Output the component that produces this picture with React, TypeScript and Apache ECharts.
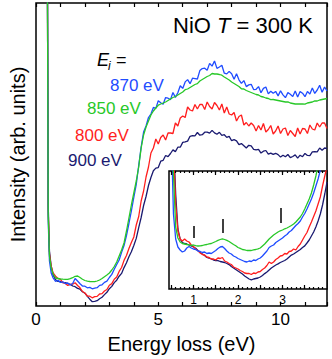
import React, { useEffect, useRef } from "react";
import * as echarts from "echarts";

const FONT = '"Liberation Sans", Arial, Helvetica, sans-serif';

const COLORS = {
  e870: "#1f4cff",
  e850: "#28c828",
  e800: "#ff1e1e",
  e900: "#1a1a70",
};

// ---------- main panel: energy loss (eV) ----------
const mainEnergy = [
  0.40, 0.47, 0.50, 0.55, 0.62, 0.70,
  0.8, 0.9, 1.0, 1.1, 1.2, 1.3, 1.4, 1.5, 1.6, 1.7,
  1.8, 1.9, 2.0, 2.1, 2.2, 2.3, 2.4, 2.5, 2.6, 2.7,
  2.8, 2.9, 3.0, 3.1, 3.2, 3.3, 3.4, 3.5, 3.6, 3.7,
  3.8, 3.9, 4.0, 4.1, 4.2, 4.3, 4.4, 4.5, 4.6, 4.7,
  4.8, 4.9, 5.0, 5.1, 5.2, 5.3, 5.4, 5.5, 5.6, 5.7,
  5.8, 5.9, 6.0, 6.1, 6.2, 6.3, 6.4, 6.5, 6.6, 6.7,
  6.8, 6.9, 7.0, 7.1, 7.2, 7.3, 7.4, 7.5, 7.6, 7.7,
  7.8, 7.9, 8.0, 8.1, 8.2, 8.3, 8.4, 8.5, 8.6, 8.7,
  8.8, 8.9, 9.0, 9.1, 9.2, 9.3, 9.4, 9.5, 9.6, 9.7,
  9.8, 9.9, 10.0, 10.1, 10.2, 10.3, 10.4, 10.5, 10.6, 10.7,
  10.8, 10.9, 11.0, 11.1, 11.2, 11.3, 11.4, 11.5, 11.6, 11.7,
  11.8, 11.9,
];

const main850 = [
  700, 300, 90, 50, 38, 32,
  28, 27.5, 27, 26.8, 26.7, 26.7, 27.3, 28.3, 29.7, 30,
  28.5, 26.8, 25.5, 24.8, 24.5, 24.3, 24.3, 25, 26, 27.5,
  29.3, 31, 33, 36, 39.5, 44, 50, 56, 63, 75,
  88, 101, 113, 125, 139, 158, 171, 179, 185, 191,
  195, 198, 200.8, 202, 203, 204, 205.5, 207, 208.5, 209.5,
  211, 212.5, 214, 216.3, 217, 218.5, 220, 221.5, 222.4, 225,
  226.5, 228, 229.5, 230.5, 232.5, 232, 232, 231.5, 230.8, 229,
  227.5, 226, 224, 222.5, 221, 219.5, 217.2, 217, 215.5, 214.5,
  213.5, 212.5, 211.5, 211, 209.5, 209, 208, 207.5, 206.3, 206.5,
  206, 205.5, 205, 204.5, 204, 204.2, 203, 202.5, 202, 202,
  202, 202, 201.8, 203, 203.5, 204, 205.2, 205, 206, 206.5,
  207, 207.5,
];

const main870 = [
  700, 300, 85, 45, 33, 28,
  24.5, 25.8, 23.6, 24.2, 22.4, 23, 21, 22.5, 27.5, 25,
  22.3, 20, 19.8, 18.2, 18.6, 17.2, 17.9, 18.3, 20.6, 21.2,
  23.6, 24.8, 28.5, 31.6, 36.8, 41.5, 46, 53.6, 60.5, 70.5,
  82.5, 95, 108.5, 121.5, 140.5, 159, 174, 180, 188.5, 192,
  198.6, 197.6, 205.2, 203.2, 201.8, 208.4, 207.8, 206.4, 213.5, 208.6,
  213.2, 220.2, 217.6, 224.1, 226.4, 222.3, 227.8, 227.4, 227, 235.4,
  237.4, 237.8, 235.8, 242.6, 239.9, 245, 237.6, 239, 240.7, 232.8,
  232.1, 234.6, 232.3, 226.8, 232.2, 226.2, 222.6, 225.4, 219.4, 221.1,
  221.7, 216.4, 216.7, 219.4, 213.3, 217.6, 219, 212.1, 214.8, 212.7,
  214.6, 210.1, 215.2, 211.2, 208.3, 213.4, 211.8, 209.4, 215, 209.1,
  214.4, 212.8, 209.3, 214.6, 211.9, 218, 212.6, 216, 220.7, 213.8,
  219, 215,
];

const main800 = [
  700, 300, 95, 52, 40, 33,
  29.8, 27.5, 26.6, 23.4, 22.6, 20.5, 21.6, 21.8, 23.2, 20.5,
  18.2, 14.5, 13, 10, 9.8, 8.2, 9.3, 9.6, 12, 12.4,
  15, 16.5, 20.8, 22.4, 26.8, 29, 34.6, 38.5, 45.6, 50.5,
  57.5, 63.5, 69, 81, 89.5, 105, 115, 129, 139, 153,
  158, 167, 162, 168.5, 171, 166, 173, 173, 172.5, 183,
  180, 188, 190, 188.5, 199, 196, 195, 201.5, 197, 201.5,
  201.5, 196.5, 204, 199.5, 197, 203.5, 200.5, 196, 202, 193,
  199, 192, 191, 193.5, 185, 189.5, 191, 181, 183.5, 180,
  183, 180.5, 175, 180.5, 176, 182.5, 174, 176.5, 180.5, 172,
  175, 180, 172.5, 177, 178, 170.5, 175.5, 172.5, 169.5, 178,
  172, 177.5, 177, 172.5, 181, 177, 176, 183, 179, 183,
  183, 177.5,
];

const main900 = [
  700, 320, 100, 55, 40, 31,
  26.3, 24.6, 24.5, 23.3, 23.4, 22.3, 21.7, 20, 19.3, 17.6,
  16.8, 14.2, 12.8, 9.7, 6.8, 4.3, 4.6, 5.3, 7.3, 8.8,
  11.4, 13.7, 17.3, 19.6, 23.4, 25.8, 29.8, 32.6, 38.4, 43.2,
  49.3, 54.2, 60.5, 67.6, 78.4, 88.5, 100.5, 109.5, 120.5, 128.5,
  135.2, 137.9, 138.4, 144.8, 145.7, 150.5, 149.3, 152.5, 156.1, 154.4,
  158.8, 158.8, 163.6, 164.1, 164.9, 169.7, 170.4, 170.2, 173.5, 170.8,
  171.3, 173.8, 173.9, 172.9, 175.6, 173.1, 171.8, 173.7, 170.7, 171.3,
  168.6, 169.6, 165.3, 166.3, 165.2, 161.4, 162.4, 160.2, 158, 160.7,
  160.1, 156.7, 156.1, 156.7, 152.9, 154.8, 155.5, 151.8, 152.9, 151.6,
  152.7, 151.4, 148.9, 150.8, 149.2, 151.5, 148.3, 149.5, 151.1, 147.9,
  150.8, 149.3, 152.6, 150.6, 150.4, 154.2, 154.4, 154.2, 158, 155.8,
  158, 157.5,
];

const mainTickLabels = [0, 5, 10];

// ---------- inset panel ----------
const insetEnergy = [
  0.50, 0.55, 0.60, 0.65, 0.70, 0.75, 0.80, 0.85, 0.90, 0.95,
  1.00, 1.05, 1.10, 1.15, 1.20, 1.25, 1.30, 1.35, 1.40, 1.45,
  1.50, 1.55, 1.60, 1.65, 1.70, 1.75, 1.80, 1.85, 1.90, 1.95,
  2.00, 2.05, 2.10, 2.15, 2.20, 2.25, 2.30, 2.35, 2.40, 2.45,
  2.50, 2.55, 2.60, 2.65, 2.70, 2.75, 2.80, 2.85, 2.90, 2.95,
  3.00, 3.05, 3.10, 3.15, 3.20, 3.25, 3.30, 3.35, 3.40, 3.45,
  3.50, 3.55, 3.60, 3.65, 3.70, 3.75, 3.80, 3.85, 3.90, 3.95,
  4.00,
];

const inset850 = [
  170, 115, 62, 51, 47, 45.5, 45, 44.5, 44.2, 43.5,
  44, 43.3, 43, 43.2, 43.5, 44.2, 44.5, 45.2, 45.5, 46.5,
  47.5, 48.6, 49.5, 50.2, 49.5, 48.6, 47.5, 46, 44.5, 43.2,
  41.5, 40.6, 39.5, 39.2, 38.5, 38.6, 38.5, 39.2, 39.5, 40.2,
  41, 43, 45, 47.5, 50, 52, 54, 55.5, 57, 58.2,
  59, 60.2, 61, 62.2, 63.5, 65, 67, 69.5, 72, 75.5,
  80, 85, 90, 96, 104, 113, 124, 135, 146, 158,
  170,
];

const inset870 = [
  160, 75, 50, 42, 39, 37, 38, 41, 42.5, 41,
  40, 39.5, 38, 37.5, 36.5, 37, 35.5, 36, 35.5, 37,
  38.5, 40.5, 42, 42.5, 40.5, 38, 36, 35, 33, 32,
  30.5, 29.5, 28.5, 27.5, 27, 28, 27.5, 29, 28.5, 30,
  31, 33, 35.5, 38, 41.5, 43, 44, 46.5, 48, 49.5,
  51, 53, 54.5, 57, 58.5, 61, 63.5, 65.5, 68, 72,
  75.5, 80, 85, 90, 96, 103, 110, 119, 128, 138,
  148,
];

const inset800 = [
  190, 140, 85, 58, 50, 48, 50, 48, 47, 44,
  42.5, 40, 38.5, 36, 34.5, 34, 32, 31.5, 30, 30,
  29, 31, 30.5, 31.5, 28, 27, 25.5, 24.5, 22, 21,
  20, 18.5, 17.5, 16, 15.5, 15.5, 14.5, 16, 15.5, 17,
  17.5, 19.5, 21, 23.5, 27, 25.5, 27, 29.5, 31, 33,
  33.5, 35.5, 35, 37.5, 38, 40, 39, 42.5, 45, 49,
  53, 56.5, 62, 67, 72.5, 78, 85, 92, 103, 113,
  122,
];

const inset900 = [
  200, 150, 95, 60, 50, 46.5, 45.5, 45, 44, 43,
  42, 40.8, 38.5, 36.5, 35, 33.5, 31.6, 31, 30, 29,
  28.5, 28.4, 27.5, 27, 26.5, 25.5, 24.4, 22.5, 21, 19.5,
  18, 16.5, 15, 13, 11.5, 10, 9.2, 10, 10.5, 11,
  12, 13.5, 15.4, 17, 19, 21, 22.5, 24, 25.1, 26.5,
  27.5, 28.5, 30, 32, 33.9, 35, 36.5, 38, 39.5, 41.5,
  43.1, 46, 49, 53, 57, 62, 68, 75, 84, 95,
  107,
];

const insetMajorTicks = [0.5, 1.0, 1.5, 2.0, 2.5, 3.0, 3.5];
const insetMinorTicks = [
  0.5, 0.6, 0.7, 0.8, 0.9, 1.0, 1.1, 1.2, 1.3, 1.4, 1.5, 1.6, 1.7, 1.8, 1.9,
  2.0, 2.1, 2.2, 2.3, 2.4, 2.5, 2.6, 2.7, 2.8, 2.9, 3.0, 3.1, 3.2, 3.3, 3.4,
  3.5, 3.6, 3.7, 3.8, 3.9,
];
const insetTickLabels = [1, 2, 3];

// d-d excitation markers in inset (energy, from, to)
const markerEnergy = [1.01, 1.66, 2.97];
const markerFrom = [51, 56, 66];
const markerTo = [63, 70, 81];

const zip = (xs: number[], ys: number[]) => xs.map((x, i) => [x, ys[i]]);

export default function App() {
  const ref = useRef<HTMLDivElement>(null);

  useEffect(() => {
    if (!ref.current) return;
    const chart = echarts.init(ref.current, undefined, { renderer: "svg" });

    const tickStyle = { color: "#000", width: 1.2 };
    const insetX = (position: string, ticks: number[], len: number, labels: boolean) => ({
      gridIndex: 1,
      type: "value",
      position,
      min: 0.45,
      max: 4.0,
      z: 11,
      axisLine: { show: false },
      axisTick: { show: true, inside: true, length: len, customValues: ticks, lineStyle: tickStyle },
      axisLabel: labels
        ? { show: true, customValues: insetTickLabels, fontSize: 12, color: "#000", margin: 5, fontFamily: FONT }
        : { show: false },
      splitLine: { show: false },
    });

    const mainLine = (name: string, data: number[], color: string) => ({
      name,
      type: "line",
      xAxisIndex: 0,
      yAxisIndex: 0,
      data: zip(mainEnergy, data),
      showSymbol: false,
      symbol: "none",
      lineStyle: { color, width: 1.3 },
      itemStyle: { color },
      z: 2,
    });
    const insetLine = (name: string, data: number[], color: string, extra: any = {}) => ({
      name,
      type: "line",
      xAxisIndex: 2,
      yAxisIndex: 1,
      data: zip(insetEnergy, data),
      showSymbol: false,
      symbol: "none",
      lineStyle: { color, width: 1.3 },
      itemStyle: { color },
      z: 10,
      ...extra,
    });

    const option: any = {
      animation: false,
      grid: [
        { left: 26, top: 3, width: 301, height: 303, show: true, borderColor: "#000", borderWidth: 1.5, backgroundColor: "transparent", z: 0 },
        { left: 169, top: 171, width: 158, height: 118, show: true, borderColor: "#000", borderWidth: 1.5, backgroundColor: "#fff", z: 5 },
      ],
      xAxis: [
        {
          gridIndex: 0,
          type: "value",
          position: "bottom",
          min: 0,
          max: 11.9,
          interval: 1,
          axisLine: { show: false },
          axisTick: { show: true, inside: true, length: 4, lineStyle: tickStyle },
          axisLabel: {
            formatter: (v: number) => (mainTickLabels.includes(v) ? String(v) : ""),
            fontSize: 17,
            color: "#000",
            margin: 5,
            fontFamily: FONT,
          },
          splitLine: { show: false },
          name: "Energy loss (eV)",
          nameLocation: "middle",
          nameGap: 28,
          nameTextStyle: { fontSize: 20, color: "#000", fontFamily: FONT },
        },
        {
          gridIndex: 0,
          type: "value",
          position: "top",
          min: 0,
          max: 11.9,
          interval: 1,
          axisLine: { show: false },
          axisTick: { show: true, inside: true, length: 4, lineStyle: tickStyle },
          axisLabel: { show: false },
          splitLine: { show: false },
        },
        insetX("bottom", insetMajorTicks, 4, true),
        insetX("bottom", insetMinorTicks, 2, false),
        insetX("top", insetMajorTicks, 4, false),
        insetX("top", insetMinorTicks, 2, false),
      ],
      yAxis: [
        {
          gridIndex: 0,
          type: "value",
          min: 0,
          max: 303,
          axisLine: { show: false },
          axisTick: { show: false },
          axisLabel: { show: false },
          splitLine: { show: false },
          name: "Intensity (arb. units)",
          nameLocation: "middle",
          nameGap: 8,
          nameTextStyle: { fontSize: 20, color: "#000", fontFamily: FONT },
        },
        { gridIndex: 1, type: "value", min: 0, max: 118, show: false },
      ],
      series: [
        mainLine("900 eV", main900, COLORS.e900),
        mainLine("800 eV", main800, COLORS.e800),
        mainLine("870 eV", main870, COLORS.e870),
        mainLine("850 eV", main850, COLORS.e850),
        insetLine("900 eV inset", inset900, COLORS.e900, {
          markLine: {
            silent: true,
            symbol: ["none", "none"],
            label: { show: false },
            lineStyle: { color: "#000", width: 1.5, type: "solid" },
            data: markerEnergy.map((e, i) => [
              { coord: [e, markerFrom[i]] },
              { coord: [e, markerTo[i]] },
            ]),
          },
        }),
        insetLine("800 eV inset", inset800, COLORS.e800),
        insetLine("870 eV inset", inset870, COLORS.e870),
        insetLine("850 eV inset", inset850, COLORS.e850),
      ],
      graphic: [
        {
          type: "text",
          x: 313,
          y: 25,
          z: 20,
          style: {
            text: "{n|NiO }{t|T}{n| = 300 K}",
            align: "right",
            verticalAlign: "middle",
            fill: "#000",
            rich: {
              n: { fontSize: 22, fontFamily: FONT, fill: "#000" },
              t: { fontSize: 22, fontFamily: FONT, fontStyle: "italic", fill: "#000" },
            },
          },
        },
        {
          type: "text",
          x: 97,
          y: 60,
          z: 20,
          style: { text: "E", fontSize: 18, fontStyle: "italic", fontFamily: FONT, fill: "#000", align: "left", verticalAlign: "middle" },
        },
        {
          type: "text",
          x: 108,
          y: 66,
          z: 20,
          style: { text: "i", fontSize: 12, fontStyle: "italic", fontFamily: FONT, fill: "#000", align: "left", verticalAlign: "middle" },
        },
        {
          type: "text",
          x: 116,
          y: 60,
          z: 20,
          style: { text: "=", fontSize: 18, fontFamily: FONT, fill: "#000", align: "left", verticalAlign: "middle" },
        },
        {
          type: "text",
          x: 110,
          y: 85,
          z: 20,
          style: { text: "870 eV", fontSize: 17, fontFamily: FONT, fill: COLORS.e870, align: "left", verticalAlign: "middle" },
        },
        {
          type: "text",
          x: 87,
          y: 108.5,
          z: 20,
          style: { text: "850 eV", fontSize: 17, fontFamily: FONT, fill: COLORS.e850, align: "left", verticalAlign: "middle" },
        },
        {
          type: "text",
          x: 75,
          y: 135,
          z: 20,
          style: { text: "800 eV", fontSize: 17, fontFamily: FONT, fill: COLORS.e800, align: "left", verticalAlign: "middle" },
        },
        {
          type: "text",
          x: 68,
          y: 160,
          z: 20,
          style: { text: "900 eV", fontSize: 17, fontFamily: FONT, fill: COLORS.e900, align: "left", verticalAlign: "middle" },
        },
      ],
    };

    chart.setOption(option);
    return () => chart.dispose();
  }, []);

  return (
    <div
      ref={ref}
      style={{ position: "fixed", left: 0, top: 0, width: 332, height: 359, background: "#fff" }}
    />
  );
}
